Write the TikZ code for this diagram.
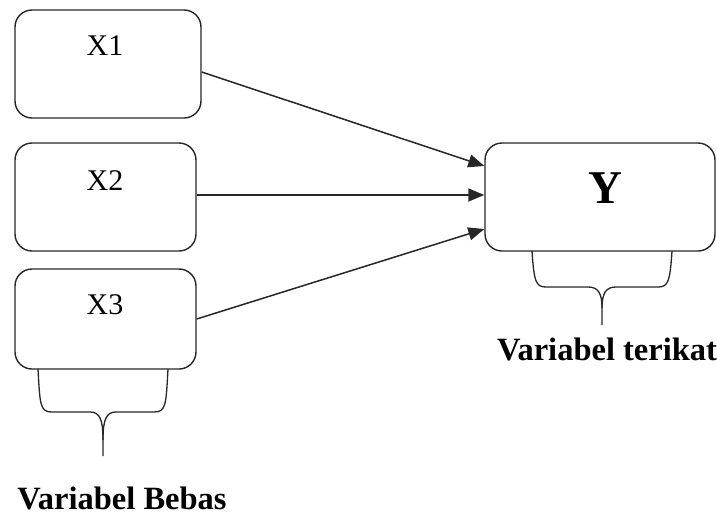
\documentclass[tikz,border=0pt]{standalone}
\usepackage{fontspec}
\setmainfont{Liberation Serif}
\usetikzlibrary{arrows.meta}
\begin{document}
\begin{tikzpicture}[x=1pt,y=-1pt,
  varbox/.style={draw=black!85,line width=1.4pt,rounded corners=17pt,inner sep=0pt},
  lbl/.style={anchor=base,inner sep=0pt,font=\fontsize{30}{32}\selectfont},
  blbl/.style={anchor=base,inner sep=0pt,font=\fontsize{32.5}{34}\selectfont\bfseries},
  arr/.style={draw=black!85,line width=1.5pt,-{Triangle[length=16pt,width=13pt]}},
  brace/.style={draw=black!85,line width=1.3pt}]
\useasboundingbox (0,0) rectangle (717,517);
% boxes
\node[varbox,minimum width=186pt,minimum height=108pt] (x1) at (108,64) {};
\node[varbox,minimum width=181pt,minimum height=108pt] (x2) at (105.5,197) {};
\node[varbox,minimum width=181pt,minimum height=100pt] (x3) at (105.5,319) {};
\node[varbox,minimum width=230pt,minimum height=108pt] (y) at (600,197) {};
% labels
\node[lbl] (x1t) at (105,55) {X1};
\node[lbl] (x2t) at (105,190) {X2};
\node[lbl] (x3t) at (105,314) {X3};
\node[anchor=base,inner sep=0pt,font=\fontsize{47}{49}\selectfont\bfseries] (yt) at (605,203) {Y};
\node[blbl] (bebas) at (122,509) {Variabel Bebas};
\node[blbl] (terikat) at (607,360) {Variabel terikat};
% arrows
\draw[arr] ([yshift=-8pt]x1.east) -- ([yshift=31pt]y.west);
\draw[arr] ([yshift=2pt]x2.east) -- ([yshift=2pt]y.west);
\draw[arr] (x3.east) -- ([yshift=-32pt]y.west);
% braces
\draw[brace] (38,369) .. controls (40,405) and (40,412) .. (52,412) -- (90,412)
  .. controls (100,412) and (103,420) .. (103,440) -- (103,456);
\draw[brace] (168,369) .. controls (166,405) and (166,412) .. (154,412) -- (116,412)
  .. controls (106,412) and (103,420) .. (103,440);
\draw[brace] (532,251) .. controls (534,282) and (536,287) .. (546,287) -- (588,287)
  .. controls (598,287) and (602,293) .. (602,308) -- (602,325);
\draw[brace] (672,251) .. controls (670,282) and (668,287) .. (658,287) -- (616,287)
  .. controls (606,287) and (602,293) .. (602,308);
\end{tikzpicture}
\end{document}
